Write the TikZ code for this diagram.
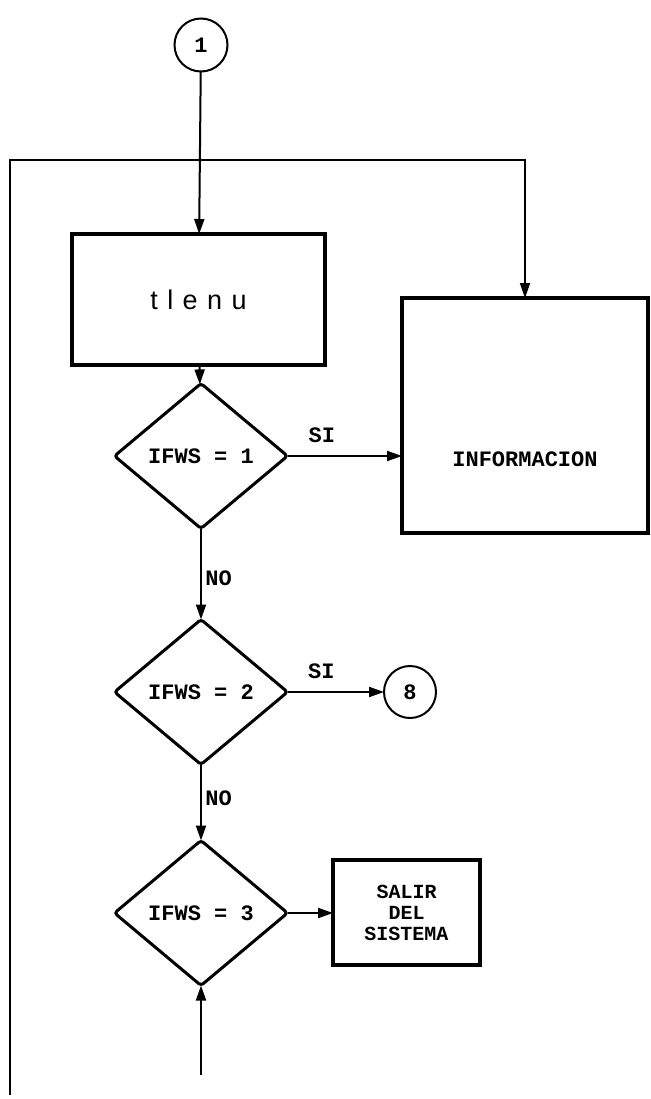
\documentclass[tikz,border=0pt]{standalone}
\usepackage{fontspec}
\setmainfont{Liberation Sans}
\setmonofont{Liberation Mono}
\newfontfamily\spacedfont[LetterSpace=35]{Liberation Sans}
\usetikzlibrary{arrows.meta,shapes.geometric}
\tikzset{>={Triangle[length=15pt,width=10pt]},every node/.style={font=\ttfamily\bfseries\fontsize{22}{24}\selectfont},
flow/.style={line width=2pt,->},loopline/.style={line width=1.8pt},
procbox/.style={draw,line width=4.5pt,inner sep=0pt,outer sep=0pt},
decision/.style={draw,diamond,line width=3pt,rounded corners=3pt,minimum width=173pt,minimum height=145pt,inner sep=0pt,outer sep=0pt},
conn/.style={draw,circle,line width=2pt,minimum size=53pt,inner sep=0pt,outer sep=0pt}}

\begin{document}
\begin{tikzpicture}[x=1pt,y=-1pt]
\useasboundingbox (0,0) rectangle (650,1099);
\node[conn] (c1) at (201,45){1};
\node[procbox,minimum width=253pt,minimum height=131pt] (menu) at (198.5,299.5){\spacedfont\mdseries\fontsize{27}{29}\selectfont tlenu};
\node[decision] (d1) at (201,456){IFWS = 1};
\node[procbox,minimum width=246pt,minimum height=235pt,label={[yshift=-44pt]center:INFORMACION}] (info) at (525,415.5){};
\node[decision] (d2) at (201,692){IFWS = 2};
\node[conn,minimum size=52pt] (c8) at (410,692){8};
\node[decision] (d3) at (201,913){IFWS = 3};
\node[procbox,minimum width=147pt,minimum height=105pt,align=center,font=\ttfamily\bfseries\fontsize{20}{21}\selectfont] (salir) at (406.5,912.5){SALIR\\DEL\\SISTEMA};
\coordinate (lbot) at (10,1095);\coordinate (ltop) at (10,160);\coordinate (up) at (201,1075);
\draw[loopline,->] (lbot)--(ltop)-|(info.north);
\draw[flow] (c1)--(menu);
\draw[flow] (menu)--(d1);
\draw[flow] (d1.east)--node[above=9pt,pos=.3]{SI}(info.west|-d1.east);
\draw[flow] (d1.south)--node[right,pos=.55]{NO}(d2.north);
\draw[flow] (d2.east)--node[above=9pt,pos=.35]{SI}(c8.west);
\draw[flow] (d2.south)--node[right,pos=.45]{NO}(d3.north);
\draw[flow] (d3.east)--(salir.west|-d3.east);
\draw[flow] (up)--(d3.south);
\end{tikzpicture}
\end{document}
